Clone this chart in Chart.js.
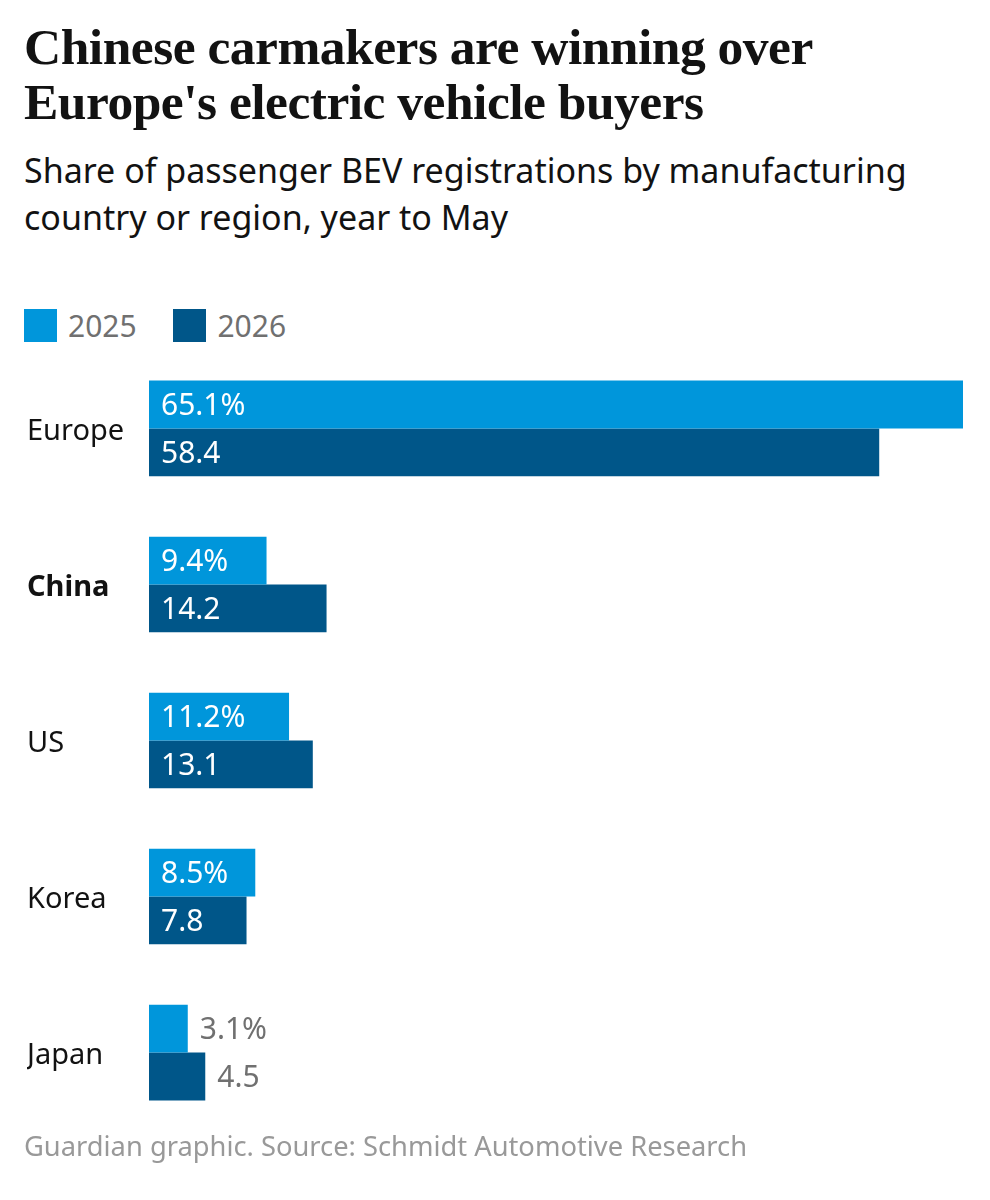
<!DOCTYPE html>
<html>
<head>
<meta charset="utf-8">
<script src="https://cdn.jsdelivr.net/npm/chart.js@4.4.0/dist/chart.umd.min.js"></script>
<style>
  body { margin: 0; background: #fff; width: 990px; height: 1200px; position: relative; overflow: hidden; }
  h1 { position: absolute; left: 24px; top: 19px; margin: 0; font-family: "Liberation Serif", serif; font-weight: bold;
       font-size: 51.5px; line-height: 55px; color: #121212; letter-spacing: -0.5px; }
  .sub { position: absolute; left: 24px; top: 147px; margin: 0; font-family: "Noto Sans", sans-serif; font-size: 34px;
         line-height: 47px; color: #121212; }
  .legend { position: absolute; left: 24px; top: 302px; font-family: "Noto Sans", sans-serif; font-size: 30px; color: #707070; }
  .legend span { display: inline-block; vertical-align: middle; }
  .sw { width: 33px; height: 33px; margin-right: 11px; }
  .item { margin-right: 29px; }
  .foot { position: absolute; left: 24px; top: 1127px; font-family: "Noto Sans", sans-serif; font-size: 27.3px; color: #999; }
  #wrap { position: absolute; left: 0; top: 330px; width: 990px; height: 821px; }
</style>
</head>
<body>
<h1>Chinese carmakers are winning over<br>Europe's electric vehicle buyers</h1>
<p class="sub">Share of passenger BEV registrations by manufacturing<br>country or region, year to May</p>
<div class="legend">
  <span class="sw" style="background:#0096db"></span><span class="item">2025</span>
  <span class="sw" style="background:#005689"></span><span>2026</span>
</div>
<div id="wrap"><canvas id="barChart"></canvas></div>
<div class="foot">Guardian graphic. Source: Schmidt Automotive Research</div>

<script>
// data
var regions = ['Europe', 'China', 'US', 'Korea', 'Japan'];
var share2025 = [65.1, 9.4, 11.2, 8.5, 3.1];
var share2026 = [58.4, 14.2, 13.1, 7.8, 4.5];
var seriesNames = ['2025', '2026'];

var colors = ['#0096db', '#005689'];

// labels inside the bar (white) or just past its end (grey) when it doesn't fit
var valueLabels = {
  id: 'valueLabels',
  afterDatasetsDraw: function (chart) {
    var ctx = chart.ctx;
    ctx.save();
    ctx.font = '30px "Noto Sans"';
    ctx.textBaseline = 'middle';
    ctx.textAlign = 'left';
    chart.data.datasets.forEach(function (ds, di) {
      chart.getDatasetMeta(di).data.forEach(function (bar, i) {
        var txt = ds.data[i].toFixed(1) + (di === 0 ? '%' : '');
        var w = ctx.measureText(txt).width;
        var barW = bar.x - bar.base;
        if (w + 24 < barW) {
          ctx.fillStyle = '#ffffff';
          ctx.fillText(txt, bar.base + 12, bar.y + 2);
        } else {
          ctx.fillStyle = '#707070';
          ctx.fillText(txt, bar.x + 12, bar.y + 2);
        }
      });
    });
    ctx.restore();
  }
};

new Chart(document.getElementById('barChart').getContext('2d'), {
  type: 'bar',
  data: {
    labels: regions,
    datasets: [
      { label: seriesNames[0], data: share2025, backgroundColor: colors[0] },
      { label: seriesNames[1], data: share2026, backgroundColor: colors[1] }
    ]
  },
  options: {
    indexAxis: 'y',
    responsive: true,
    maintainAspectRatio: false,
    animation: false,
    layout: { padding: { left: 27, right: 27, top: 0, bottom: 0 } },
    datasets: { bar: { categoryPercentage: 0.613, barPercentage: 1.0 } },
    plugins: { legend: { display: false }, tooltip: { enabled: false } },
    scales: {
      x: { display: false, min: 0, max: 65.1 },
      y: {
        grid: { display: false },
        border: { display: false },
        afterFit: function (scale) { scale.width = 122; },
        ticks: {
          crossAlign: 'far',
          labelOffset: 3,
          color: '#121212',
          font: function (c) {
            return { family: 'Noto Sans', size: 29, weight: c.index === 1 ? 'bold' : 'normal' };
          }
        }
      }
    }
  },
  plugins: [valueLabels]
});
</script>
</body>
</html>
